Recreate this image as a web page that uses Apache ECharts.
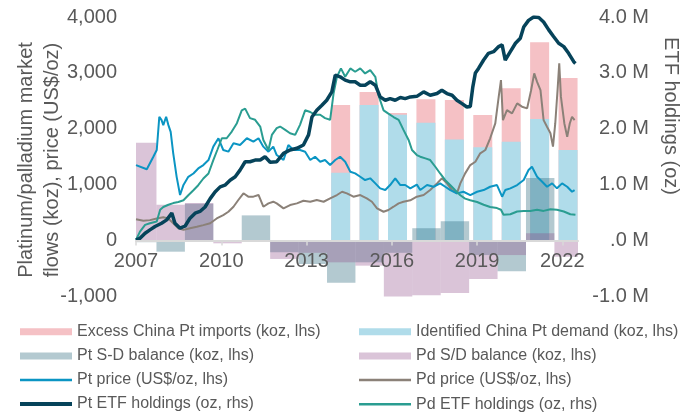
<!DOCTYPE html>
<html>
<head>
<meta charset="utf-8">
<script src="https://cdn.jsdelivr.net/npm/echarts@6/dist/echarts.min.js"></script>
<style>
  html, body { margin: 0; padding: 0; background: #fff; }
  #main { width: 692px; height: 414px; }
</style>
</head>
<body>
<div id="main"></div>
<script>
// annual balances (koz)
var sdYears = [2007, 2008, 2009, 2010, 2011, 2012, 2013, 2014, 2015, 2016, 2017, 2018, 2019, 2020, 2021, 2022];
var ptBalance = [-30, -200, 660, 0, 450, -210, -420, -755, -390, -220, 220, 345, -260, -550, 1120, 0];
var pdBalance = [1750, 640, 670, -50, 0, -330, -220, -390, -450, -1210, -980, -940, -690, -260, 130, -290];

// China platinum (koz)
var chinaYears = [2014, 2015, 2016, 2017, 2018, 2019, 2020, 2021, 2022];
var chinaIdentified = [1213, 2424, 2250, 2107, 1810, 1667, 1767, 2174, 1619];
var chinaExcess = [1211, 233, 30, 419, 703, 578, 956, 1372, 1288];

// prices (US$/oz), [year, value]
var ptPrice = [
  [2007.00, 1350], [2007.38, 1275], [2007.61, 1500], [2007.73, 1620], [2007.82, 2215], [2007.90, 2155],
  [2007.96, 2065], [2008.06, 2215], [2008.14, 2065], [2008.22, 1945], [2008.31, 1560], [2008.43, 1140],
  [2008.55, 815], [2008.67, 995], [2008.84, 1140], [2009.02, 1200], [2009.19, 1290], [2009.37, 1350],
  [2009.55, 1440], [2009.72, 1680], [2009.90, 1830], [2010.07, 1620], [2010.25, 1590], [2010.43, 1740],
  [2010.66, 1710], [2010.90, 1830], [2011.13, 1770], [2011.31, 1830], [2011.48, 1680], [2011.66, 1590],
  [2011.83, 1680], [2011.95, 1530], [2012.19, 1440], [2012.36, 1708], [2012.54, 1619], [2012.77, 1619],
  [2012.95, 1589], [2013.13, 1440], [2013.30, 1500], [2013.48, 1410], [2013.65, 1440], [2013.83, 1351],
  [2014.01, 1440], [2014.18, 1500], [2014.36, 1410], [2014.54, 1231], [2014.71, 1202], [2014.89, 1141],
  [2015.06, 1082], [2015.24, 1113], [2015.42, 1023], [2015.59, 934], [2015.77, 903], [2015.94, 993],
  [2016.12, 1113], [2016.30, 993], [2016.47, 993], [2016.65, 934], [2016.88, 1000], [2017.00, 903],
  [2017.24, 993], [2017.47, 962], [2017.70, 1023], [2017.88, 962], [2018.06, 903], [2018.29, 844],
  [2018.52, 873], [2018.76, 814], [2019.00, 873], [2019.23, 903], [2019.46, 962], [2019.70, 993],
  [2019.88, 784], [2019.99, 903], [2020.17, 934], [2020.41, 993], [2020.64, 1082], [2020.81, 1261],
  [2020.93, 1320], [2021.11, 1141], [2021.29, 1052], [2021.46, 962], [2021.64, 1023], [2021.81, 934],
  [2021.99, 1023], [2022.17, 962], [2022.34, 873], [2022.43, 903]
];
var pdPrice = [
  [2007.00, 380], [2007.26, 355], [2007.49, 365], [2007.73, 395], [2007.96, 415], [2008.14, 395],
  [2008.31, 310], [2008.49, 220], [2008.67, 190], [2008.90, 220], [2009.14, 245], [2009.37, 275],
  [2009.61, 310], [2009.84, 395], [2010.07, 455], [2010.25, 515], [2010.43, 605], [2010.60, 725],
  [2010.78, 845], [2010.95, 785], [2011.13, 785], [2011.31, 815], [2011.48, 605], [2011.66, 665],
  [2011.83, 695], [2011.95, 665], [2012.19, 576], [2012.42, 635], [2012.66, 665], [2012.89, 712],
  [2013.13, 694], [2013.36, 724], [2013.60, 694], [2013.83, 755], [2014.07, 814], [2014.25, 873],
  [2014.42, 844], [2014.65, 784], [2014.89, 814], [2015.12, 755], [2015.30, 694], [2015.48, 576],
  [2015.71, 515], [2015.88, 546], [2016.06, 605], [2016.24, 665], [2016.41, 694], [2016.65, 720],
  [2016.88, 785], [2017.12, 814], [2017.35, 903], [2017.59, 1023], [2017.76, 1113], [2017.94, 1023],
  [2018.12, 903], [2018.29, 844], [2018.41, 1023], [2018.58, 1202], [2018.76, 1350], [2018.94, 1410],
  [2019.11, 1560], [2019.29, 1620], [2019.46, 1830], [2019.64, 2095], [2019.76, 2570], [2019.84, 2870],
  [2019.91, 2155], [2020.05, 2335], [2020.23, 2275], [2020.41, 2455], [2020.58, 2395], [2020.76, 2365],
  [2020.90, 2690], [2021.01, 2990], [2021.11, 2840], [2021.23, 2690], [2021.34, 2155], [2021.46, 2035],
  [2021.58, 1920], [2021.67, 1680], [2021.75, 2095], [2021.83, 2690], [2021.89, 3170], [2021.95, 2570],
  [2022.07, 2095], [2022.17, 1855], [2022.26, 2095], [2022.34, 2215], [2022.43, 2155]
];

// ETF holdings (million oz), [year, value]
var ptEtf = [
  [2007.00, 0.01], [2007.14, 0.04], [2007.32, 0.13], [2007.49, 0.19], [2007.67, 0.25], [2007.90, 0.31],
  [2008.08, 0.37], [2008.26, 0.49], [2008.37, 0.31], [2008.55, 0.22], [2008.73, 0.26], [2008.90, 0.40],
  [2009.08, 0.49], [2009.25, 0.52], [2009.43, 0.60], [2009.61, 0.75], [2009.78, 0.87], [2009.96, 0.96],
  [2010.13, 0.99], [2010.31, 1.08], [2010.49, 1.14], [2010.66, 1.26], [2010.84, 1.41], [2011.01, 1.41],
  [2011.19, 1.44], [2011.37, 1.44], [2011.54, 1.50], [2011.72, 1.40], [2011.95, 1.41], [2012.19, 1.56],
  [2012.42, 1.62], [2012.66, 1.65], [2012.89, 1.71], [2013.07, 1.89], [2013.19, 2.21], [2013.36, 2.33],
  [2013.54, 2.42], [2013.71, 2.51], [2013.89, 2.66], [2014.01, 2.96], [2014.18, 2.93], [2014.36, 2.87],
  [2014.54, 2.84], [2014.71, 2.84], [2014.89, 2.78], [2015.06, 2.78], [2015.24, 2.84], [2015.42, 2.78],
  [2015.59, 2.57], [2015.77, 2.51], [2015.94, 2.54], [2016.12, 2.51], [2016.30, 2.56], [2016.47, 2.54],
  [2016.65, 2.57], [2016.88, 2.58], [2017.12, 2.66], [2017.35, 2.60], [2017.59, 2.63], [2017.76, 2.69],
  [2017.94, 2.63], [2018.12, 2.60], [2018.29, 2.51], [2018.47, 2.45], [2018.64, 2.39], [2018.76, 2.40],
  [2018.85, 2.75], [2018.94, 3.00], [2019.05, 3.08], [2019.23, 3.23], [2019.40, 3.35], [2019.58, 3.38],
  [2019.76, 3.47], [2019.88, 3.50], [2019.99, 3.23], [2020.17, 3.38], [2020.35, 3.53], [2020.52, 3.62],
  [2020.64, 3.82], [2020.81, 3.94], [2020.99, 4.00], [2021.17, 3.99], [2021.34, 3.91], [2021.52, 3.77],
  [2021.69, 3.65], [2021.87, 3.53], [2022.05, 3.47], [2022.22, 3.35], [2022.40, 3.20], [2022.46, 3.17]
];
var pdEtf = [
  [2007.00, 0.01], [2007.14, 0.16], [2007.32, 0.28], [2007.49, 0.31], [2007.73, 0.34], [2007.85, 0.55],
  [2007.96, 0.60], [2008.14, 0.64], [2008.31, 0.67], [2008.49, 0.69], [2008.67, 0.72], [2008.84, 0.81],
  [2009.02, 0.90], [2009.19, 0.99], [2009.37, 1.11], [2009.55, 1.20], [2009.72, 1.44], [2009.86, 1.62],
  [2010.02, 1.83], [2010.19, 1.83], [2010.37, 1.95], [2010.55, 2.10], [2010.72, 2.33], [2010.84, 2.36],
  [2011.01, 2.19], [2011.19, 2.16], [2011.37, 2.04], [2011.48, 1.80], [2011.66, 1.62], [2011.78, 1.89],
  [2011.95, 2.01], [2012.07, 2.04], [2012.25, 1.98], [2012.42, 1.92], [2012.60, 1.89], [2012.77, 2.07],
  [2012.95, 2.33], [2013.13, 2.30], [2013.30, 2.25], [2013.48, 2.25], [2013.65, 2.19], [2013.83, 2.16],
  [2013.95, 2.63], [2014.07, 2.93], [2014.21, 3.08], [2014.36, 2.93], [2014.54, 3.08], [2014.71, 3.02],
  [2014.89, 3.08], [2015.06, 2.99], [2015.24, 3.05], [2015.42, 2.93], [2015.53, 2.60], [2015.71, 2.33],
  [2015.88, 2.27], [2016.06, 2.21], [2016.24, 2.16], [2016.41, 1.98], [2016.59, 1.80], [2016.71, 1.62],
  [2016.88, 1.53], [2017.00, 1.50], [2017.18, 1.47], [2017.35, 1.44], [2017.53, 1.32], [2017.70, 1.20],
  [2017.88, 1.08], [2018.06, 0.99], [2018.23, 0.90], [2018.41, 0.81], [2018.58, 0.75], [2018.76, 0.72],
  [2019.00, 0.69], [2019.23, 0.64], [2019.46, 0.60], [2019.70, 0.58], [2019.84, 0.55], [2019.93, 0.46],
  [2020.17, 0.47], [2020.41, 0.52], [2020.64, 0.53], [2020.87, 0.53], [2021.11, 0.55], [2021.34, 0.53],
  [2021.58, 0.56], [2021.81, 0.55], [2022.05, 0.52], [2022.28, 0.47], [2022.46, 0.46]
];

var xLabels = [2007, 2010, 2013, 2016, 2019, 2022];

var FONT = "'Liberation Sans', Arial, sans-serif";
var GREY = '#595959';
var X_MIN = 2007, X_MAX = 2022.55;
var Y_MIN = -1000, Y_MAX = 4000;

var C_EXCESS = '#f5c1c5', C_IDENT = '#b0dcea';
var C_PTSD = 'rgba(43,104,124,0.36)', C_PDSD = 'rgba(142,76,136,0.33)';
var C_PTPX = '#0b95c3', C_PDPX = '#8b8178', C_PTETF = '#06435a', C_PDETF = '#2a9d91';

var GRID = {left: 136, right: 114, top: 17, bottom: 117.6};
var plotH = 414 - GRID.top - GRID.bottom;
// lift the x axis from the bottom of the grid up to the zero line
var zeroOffset = -plotH * (0 - Y_MIN) / (Y_MAX - Y_MIN);

var SD_SHIFT = 0.22;     // balance bars sit a little after Jan 1
var CHINA_SHIFT = 0.2;

function pairs(years, vals, shift) {
  return years.map(function (y, i) { return [y + shift, vals[i]]; });
}
// china bars: pink drawn as total, blue drawn over it
var chinaTotal = chinaIdentified.map(function (v, i) { return v + chinaExcess[i]; });

// full-year balance block, clipped to the plot area
function yearBlock(color) {
  return function (params, api) {
    var x = api.value(0), v = api.value(1);
    var a = api.coord([x - 0.5, 0]);
    var b = api.coord([x + 0.5, v]);
    var rect = echarts.graphic.clipRectByRect({
      x: a[0], y: Math.min(a[1], b[1]), width: b[0] - a[0], height: Math.abs(b[1] - a[1])
    }, {
      x: params.coordSys.x, y: params.coordSys.y,
      width: params.coordSys.width, height: params.coordSys.height
    });
    return rect && {type: 'rect', shape: rect, style: {fill: color}};
  };
}

var chart = echarts.init(document.getElementById('main'));

function xAx(extra) {
  return Object.assign({
    type: 'value', min: X_MIN, max: X_MAX, show: false, splitLine: {show: false},
    axisLine: {onZero: false}
  }, extra || {});
}

function legendBox(left, top, names, h) {
  return {
    orient: 'vertical', left: left, top: top, padding: 0,
    itemWidth: 52, itemHeight: h, itemGap: 6.2, icon: 'rect',
    textStyle: {color: GREY, fontFamily: FONT, fontSize: 16, lineHeight: 18},
    data: names
  };
}

var option = {
  animation: false,
  backgroundColor: '#fff',
  grid: GRID,
  xAxis: [
    xAx({
      show: true,
      z: 6,
      offset: zeroOffset,
      axisLine: {onZero: false, lineStyle: {color: '#d9d9d9', width: 2}},
      axisTick: {show: true, length: 5, customValues: xLabels, lineStyle: {color: '#d9d9d9', width: 1.5}},
      axisLabel: {customValues: xLabels, margin: 11, color: GREY, fontFamily: FONT, fontSize: 20,
        formatter: function (v) { return String(v); }}
    }),
    xAx()
  ],
  yAxis: [
    {
      type: 'value', min: Y_MIN, max: Y_MAX, interval: 1000,
      axisLine: {show: false, onZero: false}, axisTick: {show: false}, splitLine: {show: false},
      axisLabel: {margin: 19, color: GREY, fontFamily: FONT, fontSize: 20,
        formatter: function (v) { return v.toLocaleString('en-US'); }}
    },
    {
      type: 'value', min: -1, max: 4, interval: 1, position: 'right',
      axisLine: {show: false, onZero: false}, axisTick: {show: false}, splitLine: {show: false},
      axisLabel: {margin: 71, align: 'right', color: GREY, fontFamily: FONT, fontSize: 20,
        formatter: function (v) { return (v === 0 ? '.0' : v.toFixed(1)) + ' M'; }}
    }
  ],
  legend: [
    legendBox(20, 322.7, ['Excess China Pt imports (koz, lhs)', 'Pt S-D balance (koz, lhs)'], 7),
    legendBox(359, 322.7, ['Identified China Pt demand (koz, lhs)', 'Pd S/D balance (koz, lhs)'], 7),
    legendBox(20, 371, ['Pt price (US$/oz, lhs)'], 2.5),
    legendBox(20, 395, ['Pt ETF holdings (oz, rhs)'], 4),
    legendBox(359, 371, ['Pd price (US$/oz, lhs)', 'Pd ETF holdings (oz, rhs)'], 2.5)
  ],
  graphic: [
    {
      type: 'text', x: 39, y: 160, rotation: Math.PI / 2,
      style: {text: 'Platinum/palladium market\nflows (koz), price (US$/oz)', fill: GREY,
        font: '20px ' + FONT, lineHeight: 26, align: 'center', verticalAlign: 'middle'}
    },
    {
      type: 'text', x: 671, y: 116, rotation: -Math.PI / 2,
      style: {text: 'ETF holdings (oz)', fill: GREY, font: '20px ' + FONT,
        align: 'center', verticalAlign: 'middle'}
    }
  ],
  series: [
    {
      name: 'Excess China Pt imports (koz, lhs)', type: 'bar', xAxisIndex: 0, z: 1,
      barWidth: 19, itemStyle: {color: C_EXCESS}, data: pairs(chinaYears, chinaTotal, CHINA_SHIFT)
    },
    {
      name: 'Identified China Pt demand (koz, lhs)', type: 'bar', xAxisIndex: 1, z: 1,
      barWidth: 19, itemStyle: {color: C_IDENT}, data: pairs(chinaYears, chinaIdentified, CHINA_SHIFT)
    },
    {
      name: 'Pt S-D balance (koz, lhs)', type: 'custom', xAxisIndex: 0, z: 3,
      renderItem: yearBlock(C_PTSD), itemStyle: {color: C_PTSD},
      encode: {x: 0, y: 1}, data: pairs(sdYears, ptBalance, SD_SHIFT)
    },
    {
      name: 'Pd S/D balance (koz, lhs)', type: 'custom', xAxisIndex: 0, z: 3,
      renderItem: yearBlock(C_PDSD), itemStyle: {color: C_PDSD},
      encode: {x: 0, y: 1}, data: pairs(sdYears, pdBalance, SD_SHIFT)
    },
    {
      name: 'Pd price (US$/oz, lhs)', type: 'line', symbol: 'none', z: 4,
      lineStyle: {color: C_PDPX, width: 2}, itemStyle: {color: C_PDPX}, data: pdPrice
    },
    {
      name: 'Pt price (US$/oz, lhs)', type: 'line', symbol: 'none', z: 4,
      lineStyle: {color: C_PTPX, width: 2}, itemStyle: {color: C_PTPX}, data: ptPrice
    },
    {
      name: 'Pd ETF holdings (oz, rhs)', type: 'line', symbol: 'none', yAxisIndex: 1, z: 4,
      lineStyle: {color: C_PDETF, width: 2}, itemStyle: {color: C_PDETF}, data: pdEtf
    },
    {
      name: 'Pt ETF holdings (oz, rhs)', type: 'line', symbol: 'none', yAxisIndex: 1, z: 4,
      lineStyle: {color: C_PTETF, width: 3.5}, itemStyle: {color: C_PTETF}, data: ptEtf
    }
  ]
};

chart.setOption(option);
</script>
</body>
</html>
